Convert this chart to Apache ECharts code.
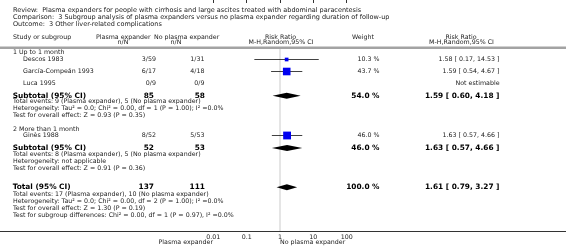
<!DOCTYPE html>
<html>
<head>
<meta charset="utf-8">
<script src="https://cdn.jsdelivr.net/npm/echarts@6/dist/echarts.min.js"></script>
<style>
  html, body { margin: 0; padding: 0; background: #fff; }
  #chart { width: 566px; height: 248px; }
</style>
</head>
<body>
<div id="chart"></div>
<script>
// study level data
const studies = ['Descos 1983', 'García-Compeán 1993', 'Luca 1995', 'Ginès 1988']
const studyGroup = [0, 0, 0, 1]
const expEvents = [3, 6, 0, 8]
const expTotal = [59, 17, 9, 52]
const ctlEvents = [1, 4, 0, 5]
const ctlTotal = [31, 18, 9, 53]
const studyRR = [1.58, 1.59, null, 1.63]
const studyLo = [0.17, 0.54, null, 0.57]
const studyHi = [14.53, 4.67, null, 4.66]
const studyWeight = [10.3, 43.7, null, 46.0]

// subgroups
const groups = ['1 Up to 1 month', '2 More than 1 month']
const subRR = [1.59, 1.63]
const subLo = [0.60, 0.57]
const subHi = [4.18, 4.66]
const subWeight = [54.0, 46.0]
const subNotes = [
  ['Heterogeneity: Tau² = 0.0; Chi² = 0.00, df = 1 (P = 1.00); I² =0.0%', 'Test for overall effect: Z = 0.93 (P = 0.35)'],
  ['Heterogeneity: not applicable', 'Test for overall effect: Z = 0.91 (P = 0.36)']
]

// overall
const totalRR = 1.61
const totalLo = 0.79
const totalHi = 3.27
const totalWeight = 100.0
const totalNotes = [
  'Heterogeneity: Tau² = 0.0; Chi² = 0.00, df = 2 (P = 1.00); I² =0.0%',
  'Test for overall effect: Z = 1.30 (P = 0.19)',
  'Test for subgroup differences: Chi² = 0.00, df = 1 (P = 0.97), I² =0.0%'
]

const titleLines = [
  'Review:  Plasma expanders for people with cirrhosis and large ascites treated with abdominal paracentesis',
  'Comparison:  3 Subgroup analysis of plasma expanders versus no plasma expander regarding duration of follow-up',
  'Outcome:  3 Other liver-related complications'
]
const tickValues = [0.01, 0.1, 1, 10, 100]
const tickLabels = ['0.01', '0.1', '1', '10', '100']
const favoursLeft = 'Plasma expander'
const favoursRight = 'No plasma expander'

// layout (pixel rows, y axis runs 1 unit per px)
const studyRow = [59.5, 71.5, 83.5, 135.5]
const groupRow = [52.3, 129.5]
const subRow = [95.7, 148]
const subNoteRow = [[101.8, 108.6, 115.6], [154.3, 161.5, 168.8]]
const totalRow = 187.3
const totalNoteRow = [194, 201, 208, 215]
const AXIS_Y = 231
const FS = 6.3

const sum = (arr, g) => arr.reduce((s, v, i) => (g == null || studyGroup[i] === g ? s + v : s), 0)
const f2 = v => v.toFixed(2)
const ci = (r, l, h) => `${f2(r)} [ ${f2(l)}, ${f2(h)} ]`

const texts = []
function txt (s, x, y, opt = {}) {
  texts.push({
    type: 'text', x, y, silent: true,
    style: {
      text: s,
      fill: opt.color || '#1a1a1a',
      fontFamily: 'DejaVu Sans',
      fontSize: opt.size || FS,
      fontWeight: opt.bold ? 'bold' : 'normal',
      textAlign: opt.align || 'left',
      textVerticalAlign: 'middle'
    }
  })
}

// header
titleLines.forEach((t, i) => txt(t, 13, 10.8 + i * 6.6, { size: 6.5 }))
txt('Study or subgroup', 13, 37.7)
txt('Plasma expander', 96, 37.7)
txt('n/N', 123, 42.7, { align: 'center' })
txt('No plasma expander', 154, 37.7)
txt('n/N', 176, 42.7, { align: 'center' })
txt('Risk Ratio', 280.5, 37.7, { align: 'center' })
txt('M-H,Random,95% CI', 281, 42.7, { align: 'center' })
txt('Weight', 352, 37.7)
txt('Risk Ratio', 461, 37.7, { align: 'center' })
txt('M-H,Random,95% CI', 461.5, 42.7, { align: 'center' })

// rows
groups.forEach((g, gi) => {
  txt(g, 13, groupRow[gi])
  studies.forEach((s, i) => {
    if (studyGroup[i] !== gi) return
    const y = studyRow[i]
    txt(s, 23, y)
    txt(`${expEvents[i]}/${expTotal[i]}`, 156, y, { align: 'right' })
    txt(`${ctlEvents[i]}/${ctlTotal[i]}`, 204.5, y, { align: 'right' })
    if (studyRR[i] != null) {
      txt(`${studyWeight[i].toFixed(1)} %`, 379.5, y, { align: 'right' })
      txt(ci(studyRR[i], studyLo[i], studyHi[i]), 499.5, y, { align: 'right' })
    } else {
      txt('Not estimable', 499.5, y, { align: 'right' })
    }
  })
  const y = subRow[gi]
  const b = { bold: true, size: 7.4, color: '#000' }
  txt('Subtotal (95% CI)', 12.7, y, b)
  txt(String(sum(expTotal, gi)), 154, y, { ...b, align: 'right' })
  txt(String(sum(ctlTotal, gi)), 205, y, { ...b, align: 'right' })
  txt(`${subWeight[gi].toFixed(1)} %`, 379.5, y, { ...b, align: 'right' })
  txt(ci(subRR[gi], subLo[gi], subHi[gi]), 499.5, y, { ...b, align: 'right' })
  const notes = [`Total events: ${sum(expEvents, gi)} (Plasma expander), ${sum(ctlEvents, gi)} (No plasma expander)`, ...subNotes[gi]]
  notes.forEach((n, k) => txt(n, 13, subNoteRow[gi][k]))
})

{
  const y = totalRow
  const b = { bold: true, size: 7.4, color: '#000' }
  txt('Total (95% CI)', 12.7, y, b)
  txt(String(sum(expTotal)), 154, y, { ...b, align: 'right' })
  txt(String(sum(ctlTotal)), 205, y, { ...b, align: 'right' })
  txt(`${totalWeight.toFixed(1)} %`, 379.5, y, { ...b, align: 'right' })
  txt(ci(totalRR, totalLo, totalHi), 499.5, y, { ...b, align: 'right' })
  const notes = [`Total events: ${sum(expEvents)} (Plasma expander), ${sum(ctlEvents)} (No plasma expander)`, ...totalNotes]
  notes.forEach((n, k) => txt(n, 13, totalNoteRow[k]))
}

txt(favoursLeft, 213, 242, { align: 'right' })
txt(favoursRight, 280, 242)

// marks
const studyData = studies.map((s, i) => [studyRR[i], studyRow[i], studyLo[i], studyHi[i], studyWeight[i]])
  .filter(d => d[0] != null)
const diamondData = subRR.map((r, i) => [r, subRow[i], subLo[i], subHi[i]])
diamondData.push([totalRR, totalRow, totalLo, totalHi])

const myChart = echarts.init(document.getElementById('chart'), null, { renderer: 'canvas' })
myChart.setOption({
  animation: false,
  grid: { left: 213.33, right: 566 - 346.67, top: 0, height: AXIS_Y, outerBoundsMode: 'none', containLabel: false },
  xAxis: {
    type: 'log', logBase: 10, min: tickValues[0], max: tickValues[tickValues.length - 1],
    axisLine: { show: false },
    axisTick: { show: true, length: 3, lineStyle: { color: '#333', width: 1 } },
    splitLine: { show: false },
    axisLabel: {
      fontSize: FS, fontFamily: 'DejaVu Sans', color: '#222', margin: 3,
      formatter: v => tickLabels[tickValues.findIndex(t => Math.abs(Math.log10(t) - Math.log10(v)) < 1e-6)] || ''
    }
  },
  yAxis: { type: 'value', min: 0, max: AXIS_Y, inverse: true, show: false },
  graphic: [
    { type: 'rect', silent: true, shape: { x: 0, y: 46.5, width: 566, height: 2.5 }, style: { fill: '#a3a3a3' } },
    { type: 'line', silent: true, shape: { x1: 0, y1: AXIS_Y + 0.5, x2: 566, y2: AXIS_Y + 0.5 }, style: { stroke: '#333', lineWidth: 1 } },
    ...texts
  ],
  series: [
    {
      // line of no effect
      type: 'custom',
      silent: true,
      data: [[1, 49, AXIS_Y]],
      renderItem: (params, api) => {
        const a = api.coord([api.value(0), api.value(1)])
        const b = api.coord([api.value(0), api.value(2)])
        return { type: 'line', shape: { x1: a[0], y1: a[1], x2: b[0], y2: b[1] }, style: { stroke: '#dcdcdc', lineWidth: 1.5 } }
      }
    },
    {
      type: 'custom',
      silent: true,
      data: studyData,
      renderItem: (params, api) => {
        const c = api.coord([api.value(0), api.value(1)])
        const l = api.coord([api.value(2), api.value(1)])
        const h = api.coord([api.value(3), api.value(1)])
        const side = 1.15 * Math.sqrt(api.value(4))
        return {
          type: 'group',
          children: [
            { type: 'line', shape: { x1: l[0], y1: c[1], x2: h[0], y2: c[1] }, style: { stroke: '#111', lineWidth: 0.8 } },
            { type: 'rect', shape: { x: c[0] - side / 2, y: c[1] - side / 2, width: side, height: side }, style: { fill: '#0000f0' } }
          ]
        }
      }
    },
    {
      type: 'custom',
      silent: true,
      data: diamondData,
      renderItem: (params, api) => {
        const c = api.coord([api.value(0), api.value(1)])
        const l = api.coord([api.value(2), api.value(1)])
        const h = api.coord([api.value(3), api.value(1)])
        return {
          type: 'polygon',
          shape: { points: [[l[0], c[1]], [c[0], c[1] - 3], [h[0], c[1]], [c[0], c[1] + 3]] },
          style: { fill: '#000' }
        }
      }
    }
  ]
})
</script>
</body>
</html>
